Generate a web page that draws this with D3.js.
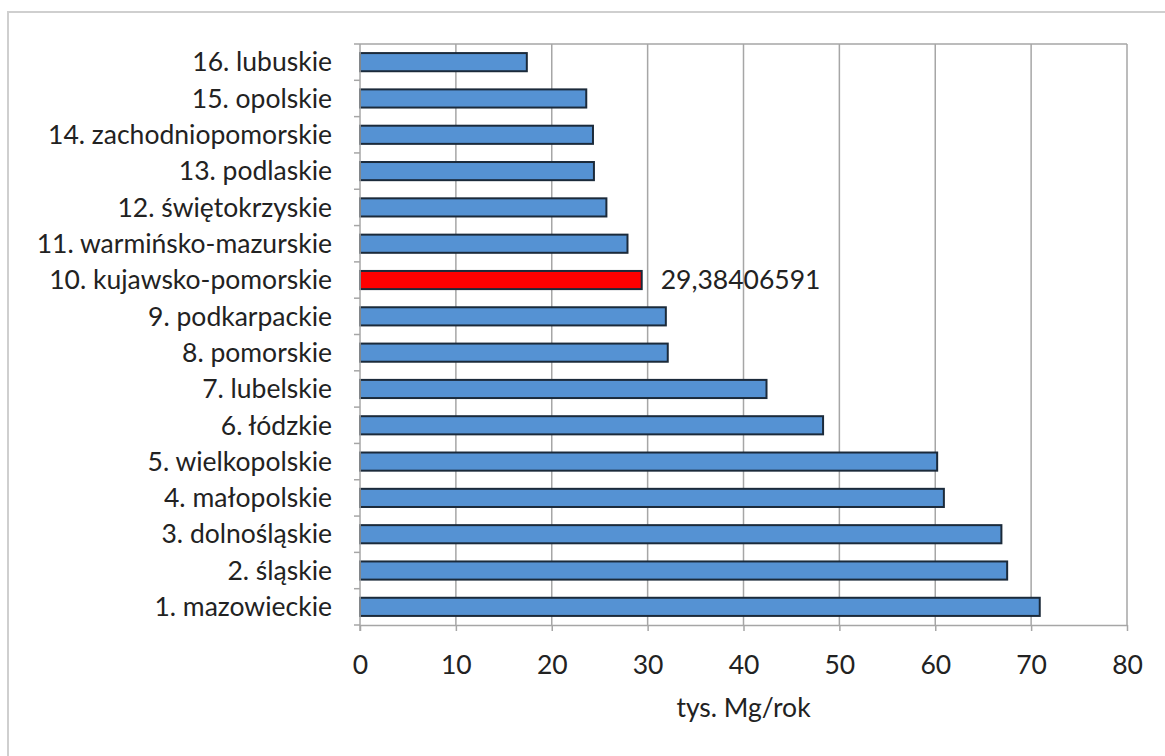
<!DOCTYPE html>
<html><head><meta charset="utf-8">
<script src="https://cdn.jsdelivr.net/npm/d3@7"></script>
<style>body{margin:0;background:#fff;}svg{display:block;font-family:Lato,"Open Sans",sans-serif;}</style>
</head><body>
<svg id="c" width="1165" height="756"></svg>
<script>
const categories = ["16. lubuskie","15. opolskie","14. zachodniopomorskie","13. podlaskie","12. świętokrzyskie","11. warmińsko-mazurskie","10. kujawsko-pomorskie","9. podkarpackie","8. pomorskie","7. lubelskie","6. łódzkie","5. wielkopolskie","4. małopolskie","3. dolnośląskie","2. śląskie","1. mazowieckie"];
const values = [17.4,23.6,24.3,24.4,25.7,27.9,29.38406591,31.9,32.1,42.4,48.3,60.2,60.9,66.9,67.5,70.9];
const highlighted = ["10. kujawsko-pomorskie"];
const valueLabels = {"10. kujawsko-pomorskie":"29,38406591"};
const xTicks = [0,10,20,30,40,50,60,70,80];
const xTitle = "tys. Mg/rok";

const FS = 26.5;
const svg = d3.select("#c");
const L=360,R=1127,T=44,B=625;
const x = d3.scaleLinear().domain([0,80]).range([L,R]);
const y = d3.scaleBand().domain(categories).range([T,B]).paddingInner(0.5).paddingOuter(0.25);

// outer frame
svg.append("rect").attr("x",8).attr("y",12).attr("width",1200).attr("height",800)
  .attr("fill","none").attr("stroke","#cfcfcf").attr("stroke-width",2);

// gridlines
svg.append("g").selectAll("line").data(xTicks.slice(1)).join("line")
  .attr("x1",d=>x(d)).attr("x2",d=>x(d)).attr("y1",T).attr("y2",B)
  .attr("stroke","#a6a6a6").attr("stroke-width",1.5);
svg.append("line").attr("x1",L).attr("x2",R).attr("y1",T).attr("y2",T).attr("stroke","#a6a6a6").attr("stroke-width",1.5);

// bars
svg.append("g").selectAll("rect").data(categories).join("rect")
  .attr("x",x(0)).attr("y",d=>y(d)).attr("height",y.bandwidth())
  .attr("width",(d,i)=>x(values[i])-x(0))
  .attr("fill",d=>highlighted.includes(d)?"#ff0000":"#5592d3")
  .attr("stroke","#1b2a3a").attr("stroke-width",2);

// x axis
const xa = svg.append("g").attr("transform",`translate(0,${B})`)
  .call(d3.axisBottom(x).tickValues(xTicks).tickSize(6).tickPadding(24).tickSizeOuter(0));
xa.select(".domain").attr("stroke","#a6a6a6").attr("stroke-width",1.5);
xa.selectAll(".tick line").attr("stroke","#a6a6a6").attr("stroke-width",1.5);
xa.selectAll("text").attr("font-size",FS).attr("fill","#222").attr("font-family","Lato,sans-serif");

// y axis
const yb = d3.scaleLinear().domain([0,16]).range([T,B]);
const ya = svg.append("g").attr("transform",`translate(${L},0)`);
ya.append("line").attr("x1",0).attr("x2",0).attr("y1",T).attr("y2",B+6).attr("stroke","#a6a6a6").attr("stroke-width",1.5);
ya.selectAll("line.t").data(d3.range(17)).join("line").attr("class","t")
  .attr("x1",-6).attr("x2",0).attr("y1",d=>yb(d)).attr("y2",d=>yb(d))
  .attr("stroke","#a6a6a6").attr("stroke-width",1.5);
svg.append("g").selectAll("text").data(categories).join("text")
  .attr("x",L-28).attr("y",d=>y(d)+y.bandwidth()/2)
  .attr("dy","0.35em").attr("text-anchor","end").attr("font-size",FS).attr("fill","#222")
  .text(d=>d);

// value label
svg.append("g").selectAll("text").data(categories.filter(c=>valueLabels[c])).join("text")
  .attr("x",d=>x(values[categories.indexOf(d)])+19).attr("y",d=>y(d)+y.bandwidth()/2)
  .attr("dy","0.35em").attr("font-size",FS).attr("fill","#222").text(d=>valueLabels[d]);

// x title
svg.append("text").attr("x",(L+R)/2).attr("y",708).attr("dy","0.35em").attr("text-anchor","middle")
  .attr("font-size",FS).attr("fill","#222").text(xTitle);
</script>
</body></html>
